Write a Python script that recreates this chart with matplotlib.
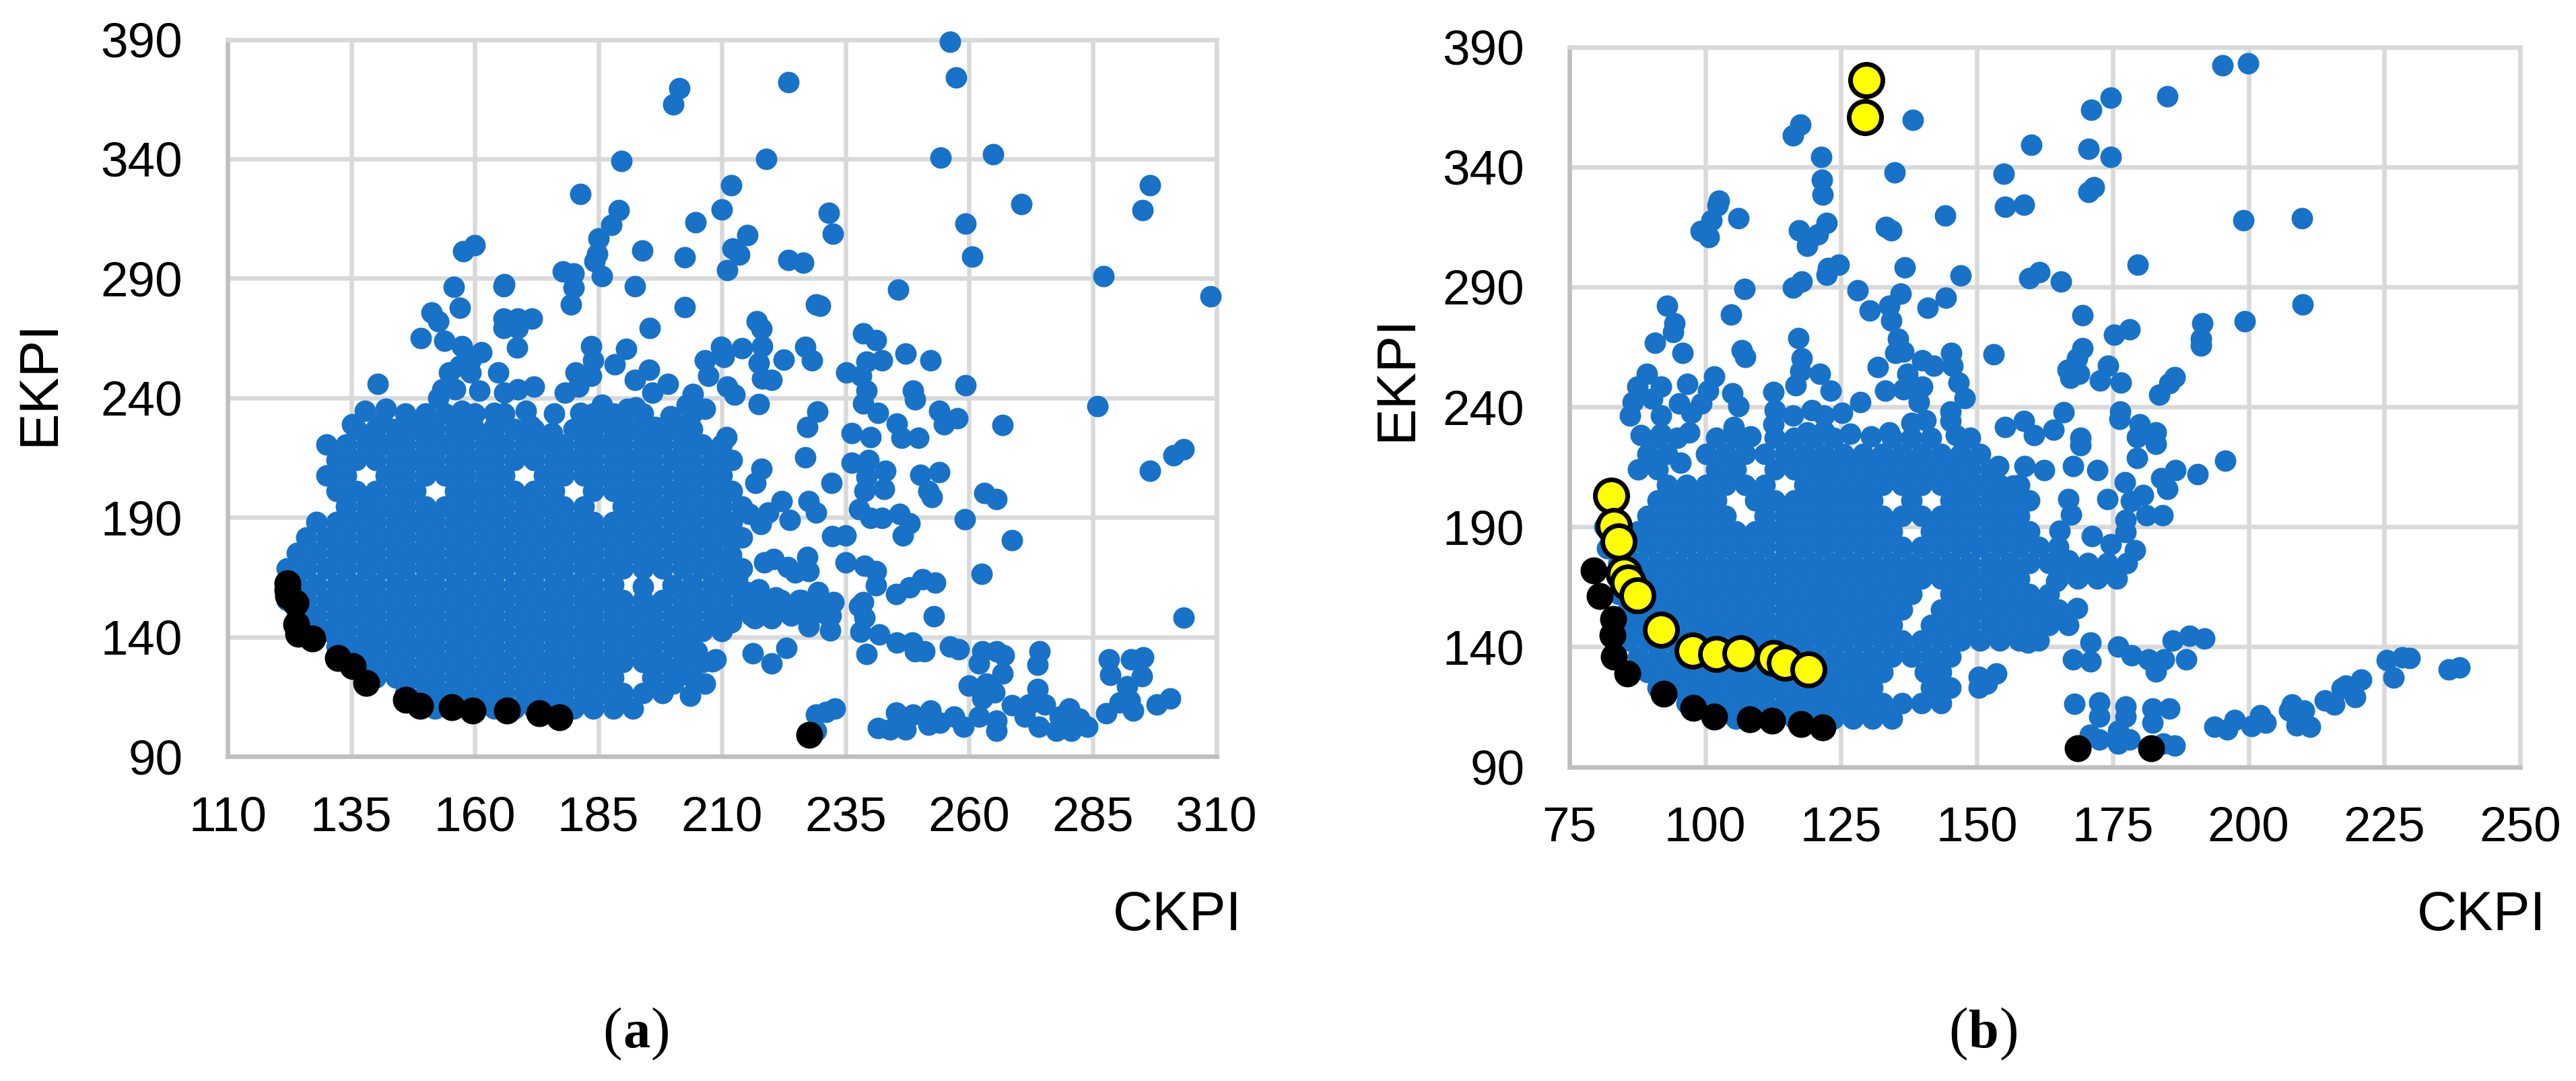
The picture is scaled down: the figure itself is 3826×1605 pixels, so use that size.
import matplotlib
matplotlib.use("Agg")
import matplotlib.pyplot as plt

# panel (a): points read one by one
a_blue = [
    (140.4, 245.8), (189.7, 339), (181.3, 325.4), (189.1, 318.6), (187.6, 312.4), (185, 306.6), (184.8, 300.2),
    (184.2, 297.2), (185.7, 290.8), (193.9, 301.6), (192.4, 286.7), (195.4, 269.2), (177.8, 292.9), (180, 292),
    (180, 286.1), (179.4, 279.1), (160, 304), (157.7, 301.3), (155.7, 286.5), (165.8, 286.7), (166, 287.5),
    (157, 277.7), (151.3, 275.6), (152.6, 272), (149.1, 264.9), (153.9, 264), (157.4, 261.6), (165.8, 273.3),
    (168.7, 273.3), (171.6, 273.3), (165.8, 269.2), (168.7, 269.2), (168.6, 261), (161.3, 259), (159.1, 255.8),
    (154.8, 250.5), (159.1, 250.5), (164.8, 250.7), (157, 253.4), (152.6, 240), (153.5, 243.5), (156, 243.5),
    (160.9, 243), (166, 242.3), (168.7, 243.5), (172, 244.7), (183.5, 261.6), (183.9, 255.8), (190.6, 260.5),
    (188.3, 254), (195.2, 251.7), (180.4, 250.5), (183.5, 249.3), (178.3, 242.3), (180.9, 244.7), (192.4, 247.6),
    (195.9, 242.3), (199.1, 245.8), (137.8, 234.7), (135.2, 228.9), (142, 235.3), (141.3, 230), (146.5, 231.8),
    (150.9, 227.2), (157.4, 234.7), (157.8, 227.2), (163.9, 233.6), (163.9, 227.7), (170.4, 234.7), (171.3, 228.3),
    (175.7, 225.4), (181.3, 233.6), (185.7, 237.1), (180.9, 227.7), (186.5, 230), (190.9, 235.3), (192.6, 236),
    (190, 227.7), (196.5, 227.7), (199.6, 232.4), (256.2, 389), (257.3, 374.1), (223.4, 372), (201.4, 369.7),
    (200.2, 362.7), (219, 339.9), (254.2, 340.6), (264.8, 342), (211.9, 329), (209.9, 318.9), (204.7, 313.4),
    (215.2, 308.1), (212.2, 302.5), (213.5, 300), (211, 293.4), (202.5, 298.8), (223.5, 297.6), (226.4, 296.7),
    (231.6, 317.4), (232.4, 308.6), (259.2, 313), (260.6, 299), (270.6, 321), (296.6, 329), (295.1, 318.6),
    (287.2, 291), (308.8, 282.6), (245.7, 285.3), (202.5, 278), (229.1, 279.1), (229.9, 278.6), (217, 272),
    (218, 269), (238.5, 267), (241.1, 264.2), (247.1, 258.6), (252.2, 255.8), (226.9, 261.3), (228.2, 255.8),
    (209.8, 261.4), (214.1, 260.7), (210.4, 257), (206.5, 255.8), (207.2, 249.3), (218.2, 261.6), (217.4, 254.6),
    (222.5, 256), (218.2, 248.2), (220.1, 247.6), (239.3, 255.2), (242.4, 255.8), (235.1, 250.5), (238.1, 249.3),
    (239.3, 243), (238.5, 237.7), (241.6, 233.8), (248.7, 243), (249.1, 239.4), (259.3, 245.3), (211.1, 244.7),
    (212.6, 241.2), (204.1, 241.7), (202.9, 237.1), (206.6, 235.3), (217.4, 237.4), (229.3, 234.2), (227.2, 227.7),
    (254, 234.7), (257.7, 231.6), (254.9, 228.9), (266.7, 228.7), (286, 236.5), (245.4, 229.1), (236.2, 225.4),
    (240, 223.7), (249.8, 223.3), (246.3, 223.3), (210.9, 223.7), (201.4, 228.3), (303.4, 218.5), (301.3, 215.9),
    (296.6, 209.6), (226.9, 215.2), (218, 210.4), (216.8, 204.4), (232.1, 204.4), (236.2, 213), (239.7, 213.9),
    (243, 209.6), (250.2, 207.9), (254, 209), (251.8, 201), (252.4, 198.4), (263.1, 200.1), (265.5, 197.6),
    (259.1, 189.3), (268.6, 180.4), (262.6, 166.3), (242.8, 201.8), (239.3, 207), (238.9, 201), (237.7, 193.3),
    (240.1, 189.8), (242.4, 189.8), (245.9, 191.5), (248, 187.6), (246.6, 182.4), (235, 182.4), (232.3, 182.1),
    (222.1, 196.7), (227.6, 196.7), (229, 192), (223.7, 189), (219.4, 191.9), (217.8, 187.3), (215.6, 191.5),
    (213.1, 182.1), (211.9, 174.4), (218.6, 171.3), (220.5, 172.7), (223.3, 169.2), (227.2, 173.5), (227.6, 167.5),
    (224.8, 167), (235, 171.3), (238.9, 169.7), (241.2, 167.5), (241.2, 161.5), (245.2, 158), (247.9, 160.6),
    (250.6, 164.1), (253.2, 162.7), (252.8, 148.6), (303.4, 148.1), (238.5, 154.6), (237.7, 152.9), (238.9, 148.1),
    (238, 142.1), (241.9, 140.9), (245.4, 137.5), (248.5, 137.5), (249.1, 134), (251, 134), (239.3, 132.8),
    (256.1, 135.8), (257.9, 134.9), (216.2, 133.2), (220.1, 128.9), (223, 135.4), (231.9, 142.6), (232.6, 154.6),
    (229.5, 158.9), (225.6, 155.5), (227.2, 150.3), (223.7, 149.5), (220.9, 156.4), (217.4, 159.8), (215, 158.9),
    (211.9, 146.1), (220.1, 147.8), (216.6, 147.8), (227.6, 144.3), (231.1, 149.5), (213.1, 164.1), (208, 129.8),
    (208.8, 130.6), (206.5, 120.3), (203.5, 115.5), (204.9, 134), (201.8, 125.5), (200.2, 120.3), (262.7, 134),
    (265.5, 134), (267, 132.3), (262, 128.9), (266.7, 124.6), (260, 119.5), (263.5, 120.3), (262.7, 114.3),
    (265.1, 116.9), (274.3, 134), (273.9, 128.4), (273.9, 118.3), (268.6, 111.4), (272.1, 111.7), (275.3, 111.7),
    (280.3, 110), (271.3, 106.6), (278.4, 106.6), (274.1, 102.3), (277.6, 100.6), (280.7, 100.6), (283.9, 102.3),
    (282.3, 105.7), (265.5, 100.6), (265.5, 104.9), (262, 106.6), (258.8, 102.3), (256.9, 106.6), (254.1, 104),
    (252.2, 109.2), (251.8, 103.2), (248.7, 107.4), (247.1, 101.4), (245.2, 108.3), (244, 101.4), (241.6, 101.8),
    (288.3, 130.6), (288.5, 124.1), (292.8, 130.6), (295.2, 131.5), (295, 123.4), (292, 119.4), (292.5, 113.5),
    (290.5, 112.6), (293.2, 109.2), (287.8, 108), (297.9, 111.7), (300.7, 114.3), (232.9, 110), (231.1, 108.6),
    (229, 107.4), (229.1, 100.6), (194, 161), (200, 161.5),
]

# dense cloud of (a), estimated row by row since the dots merge there
a_row_y = [110, 116.5, 123, 129.5, 136, 142.5, 149, 155.5, 162, 168.5, 175, 181.5, 188, 194.5, 201, 207.5, 214, 220.5, 227, 233.5]
a_row_x = [
    [152, 156, 160, 164, 168, 172, 176, 180, 184, 188, 192],
    [146, 150, 154, 158, 162, 166, 170, 174, 178, 182, 186, 190, 194, 198],
    [140, 144, 148, 152, 156, 160, 164, 168, 172, 176, 180, 184, 188, 196, 200, 204],
    [134, 138, 142, 146, 150, 154, 158, 162, 166, 170, 174, 178, 182, 186, 190, 194, 198, 202, 206],
    [132, 136, 140, 144, 148, 152, 156, 160, 164, 168, 172, 176, 180, 184, 188, 192, 196, 200, 204],
    [126, 130, 134, 138, 142, 146, 150, 154, 158, 162, 166, 170, 174, 178, 182, 186, 190, 194, 198, 202, 206, 210],
    [124, 128, 132, 136, 140, 144, 148, 152, 156, 160, 164, 168, 172, 176, 180, 184, 188, 192, 196, 200, 204, 208, 212, 216, 220, 224, 228, 232],
    [122, 126, 130, 134, 138, 142, 146, 150, 154, 158, 162, 166, 170, 174, 178, 182, 186, 190, 194, 198, 202, 206, 210, 214, 218, 222, 226, 230],
    [124, 128, 132, 136, 140, 144, 148, 152, 156, 160, 164, 168, 172, 176, 180, 184, 188, 204, 208, 212],
    [122, 126, 130, 134, 138, 142, 146, 150, 154, 158, 162, 166, 170, 174, 178, 182, 186, 190, 194, 198, 202, 206, 210, 214],
    [124, 128, 132, 136, 140, 144, 148, 152, 156, 160, 164, 168, 172, 176, 180, 184, 188, 192, 196, 200, 204, 208],
    [126, 130, 134, 138, 142, 146, 150, 154, 158, 162, 166, 170, 174, 178, 182, 186, 190, 194, 198, 202, 206, 210, 214],
    [128, 132, 136, 140, 144, 148, 152, 156, 160, 164, 168, 172, 176, 180, 184, 188, 192, 196, 200, 204, 208, 212],
    [134, 138, 142, 146, 150, 154, 158, 162, 166, 170, 174, 178, 182, 190, 194, 198, 202, 206, 210, 214],
    [132, 136, 140, 144, 148, 156, 160, 164, 168, 172, 176, 184, 188, 192, 196, 200, 204, 208, 212],
    [130, 134, 142, 146, 150, 154, 158, 162, 166, 174, 178, 182, 186, 190, 194, 198, 202, 206, 210],
    [132, 136, 140, 144, 148, 152, 156, 160, 164, 168, 172, 176, 180, 184, 188, 192, 196, 200, 204, 208, 212],
    [130, 134, 138, 142, 146, 150, 154, 158, 162, 166, 170, 174, 178, 182, 186, 190, 194, 198, 202, 206, 210],
    [136, 140, 144, 148, 152, 156, 160, 164, 168, 172, 180, 184, 188, 192, 196, 200, 204],
    [146, 150, 154, 160, 166, 176, 184, 188, 194, 204],
]

a_black_x = [122.1, 122.1, 122.2, 123.8, 123.9, 124.3, 127.2, 132.3, 135.4, 138.1, 146.1, 148.9, 155.4, 159.6, 166.5, 173, 177.1, 227.7]
a_black_y = [162.3, 159.7, 157, 154.3, 145.1, 141.3, 139.2, 131.1, 127.8, 120.8, 113.6, 111.1, 110.6, 109.3, 109.3, 108.1, 106.3, 99]

# panel (b)
b_blue = [
    (138.2, 359.5), (117.5, 357.6), (116.2, 353.1), (121.4, 344.2), (134.9, 337.8), (121.5, 334.5), (121.6, 328.4),
    (102.5, 326), (102.3, 324), (101.2, 317.7), (99.2, 313.3), (100.7, 310.7), (106.1, 318.6), (144.1, 319.8),
    (122.4, 316.5), (117.3, 313.6), (120.7, 311.9), (118.8, 307.2), (133.3, 315), (134.2, 313.6), (136.7, 298.1),
    (147, 294.8), (124.6, 299.1), (122.6, 297.9), (122.4, 295), (117.7, 292.3), (116.2, 289.8), (107.2, 289.2),
    (128, 288.6), (136, 287.2), (144.3, 285.5), (140.9, 281.3), (130.3, 280.2), (133.9, 282.2), (134.2, 275.8),
    (135.5, 268.3), (136.5, 263), (135, 262.4), (93, 282), (94.3, 274.7), (94.1, 271.2), (90.8, 266.7),
    (95.8, 262.4), (104.8, 278.4), (106.7, 263.6), (107.4, 260.7), (117.2, 268.6), (117.7, 260.1), (117.5, 254.9),
    (121.1, 253.7), (116.6, 249.1), (123.1, 246.7), (112.6, 246.2), (131.8, 256.6), (133.1, 246.7), (136.5, 247.3),
    (137.2, 253.7), (139.9, 259.5), (142.1, 257.2), (145.3, 262.4), (145.5, 257.2), (146.6, 250.2), (139.9, 248.5),
    (139.3, 242.1), (147.7, 243.8), (145.1, 238), (145.1, 234), (128.6, 242.1), (89.2, 253.7), (87.5, 248.5),
    (91.8, 248.5), (86.6, 242.1), (86.2, 236.3), (90.3, 243.3), (96.7, 249.6), (101.6, 252.6), (100.5, 246.7),
    (99.3, 241.5), (95.2, 241.5), (91.8, 236.3), (97.4, 237.4), (105, 245.6), (106.1, 240.3), (112.8, 238.6),
    (112.5, 232.8), (116.2, 236.3), (119.6, 238.6), (121.8, 236.3), (125.2, 237.4), (126.7, 228.7), (138, 233.4),
    (140.6, 234.5), (105.3, 231.6), (108.3, 227.6), (118.8, 229.3), (121.8, 229.9), (133.9, 229.3), (130.5, 227.6),
    (146.2, 228.1), (88.1, 228.1), (91.8, 228.7), (97.1, 229.3), (195.2, 382.2), (199.9, 383.1), (185, 369.4),
    (174.6, 368.8), (171, 363.8), (160, 349.3), (170.5, 347.5), (174.6, 344.2), (155, 337.2), (171.5, 331.4),
    (170.5, 329.5), (155.2, 323.3), (158.7, 324.1), (199, 317.7), (209.9, 318.5), (179.6, 299.3), (161.5, 296.2),
    (159.6, 293.5), (165.5, 292.1), (210, 282.8), (199.3, 275.6), (169.5, 278.1), (178.1, 272.3), (175.3, 270),
    (191.5, 274.9), (191.3, 268.3), (191.3, 265.5), (169.5, 264.4), (168.4, 260.1), (153.1, 261.9), (166.7, 255.5),
    (168.8, 253.7), (167.2, 252), (174.2, 257.2), (172.7, 251), (176.5, 250.2), (186.4, 252.3), (185.4, 249.7),
    (183.6, 245), (176.4, 238), (176.2, 235.1), (166, 237.8), (158.7, 234.2), (155.2, 231.6), (164.1, 230.5),
    (180, 232.8), (183, 229.3), (160.5, 228.1), (169.1, 227.2), (195.7, 217.5), (190.6, 211.9), (186.5, 213.6),
    (184, 210.2), (179.5, 218.7), (183, 224.7), (179.5, 227.3), (169.1, 223.9), (172.2, 213.6), (174, 201.6),
    (177.2, 208.5), (185.1, 205.9), (180.6, 203.3), (178.4, 200.8), (184.2, 194.8), (181.2, 194.8), (177.4, 193),
    (177.4, 187.9), (179.1, 180.2), (174.6, 182.8), (171.2, 186.2), (174.6, 172.5), (169.6, 171.6), (166.8, 175.9),
    (165.2, 188.3), (166.8, 201.6), (167.3, 195.1), (167.7, 215.3), (158.8, 215.3), (156.7, 207.1), (162.4, 213.6),
    (153.9, 215.3), (158.1, 187.9), (168.4, 156.2), (164.6, 167.4), (163.6, 152), (159.4, 141.7), (153.6, 128.8),
    (151.8, 124.6), (150.4, 127.4), (150.4, 123), (170.9, 141.7), (167.7, 134.8), (170.9, 134), (176, 140),
    (178.5, 136.5), (181.6, 134.8), (184.4, 134.8), (182.9, 129.7), (188.5, 134.8), (186, 142.5), (189.1, 144.6),
    (191.9, 143.4), (167.9, 116.3), (172.6, 116.8), (177.4, 115.1), (182.3, 114.3), (185.4, 114.3), (172.6, 110.9),
    (177.4, 110.9), (182.3, 108.3), (170.8, 103.2), (172.6, 101.4), (176, 99.7), (178.1, 101.4), (176, 104.9),
    (186.4, 98.9), (184.3, 99.7), (193.7, 106.6), (196.1, 105.7), (197.5, 109.5), (200.6, 107.1), (202.2, 111.4),
    (203.2, 108.3), (208, 116), (207.5, 113.4), (210.2, 113.4), (211.3, 106.6), (208.8, 107.4), (214.1, 117.7),
    (215.8, 116), (217.2, 122.8), (219.6, 119.1), (217.9, 123.7), (220.7, 126.3), (225.5, 134.5), (228.3, 135.7),
    (229.7, 135.3), (226.7, 127.1), (236.9, 130.5), (238.8, 131.4), (81.5, 190), (82, 181), (84, 175),
    (95.4, 216.7),
]

b_row_y = [110, 116.5, 123, 129.5, 136, 142.5, 149, 155.5, 162, 168.5, 175, 181.5, 188, 194.5, 201, 207.5, 214, 220.5, 227]
b_row_x = [
    [105.6, 109.2, 112.8, 116.4, 120, 123.6, 127.2, 130.8, 134.4],
    [96.6, 100.2, 103.8, 107.4, 111, 114.6, 118.2, 121.8, 125.4, 129, 132.6, 136.2, 139.8, 143.4],
    [91.2, 94.8, 98.4, 102, 105.6, 109.2, 112.8, 116.4, 120, 123.6, 127.2, 130.8, 141.6, 145.2],
    [89.4, 93, 96.6, 100.2, 103.8, 107.4, 111, 114.6, 118.2, 121.8, 125.4, 129, 132.6, 140.5, 143.4],
    [87.6, 91.2, 94.8, 98.4, 102, 105.6, 109.2, 112.8, 116.4, 120, 123.6, 127.2, 130.8, 134.4, 138, 141.6, 145.2],
    [85.8, 89.4, 93, 96.6, 100.2, 103.8, 107.4, 111, 114.6, 118.2, 121.8, 125.4, 129, 132.6, 136.2, 139.8, 143.4, 147, 150.6, 154.2, 157.8, 161.4],
    [84, 87.6, 91.2, 94.8, 98.4, 102, 105.6, 109.2, 112.8, 116.4, 120, 123.6, 127.2, 130.8, 134.4, 141.6, 145.2, 148.8, 152.4, 156, 159.6, 163.2, 166.8],
    [85.8, 89.4, 93, 96.6, 100.2, 103.8, 107.4, 111, 114.6, 118.2, 121.8, 125.4, 129, 132.6, 136.2, 143.4, 147, 150.6, 154.2, 157.8, 161.4, 165],
    [84, 87.6, 91.2, 94.8, 98.4, 102, 105.6, 109.2, 112.8, 116.4, 120, 123.6, 127.2, 130.8, 134.4, 138, 145.2, 148.8, 152.4, 156, 159.6, 163.2],
    [85.8, 89.4, 93, 96.6, 100.2, 103.8, 107.4, 111, 114.6, 118.2, 121.8, 125.4, 129, 132.6, 136.2, 139.8, 143.4, 147, 150.6, 154.2, 157.8, 165, 168.6, 172.2, 175.8],
    [84, 87.6, 91.2, 94.8, 98.4, 102, 105.6, 109.2, 112.8, 116.4, 120, 123.6, 127.2, 130.8, 134.4, 138, 141.6, 145.2, 148.8, 152.4, 156, 159.6, 163.2, 166.8, 170.4, 174, 177.6],
    [85.8, 89.4, 93, 96.6, 100.2, 103.8, 107.4, 111, 114.6, 118.2, 121.8, 125.4, 129, 132.6, 136.2, 139.8, 143.4, 147, 150.6, 154.2, 157.8, 161.4, 165],
    [84, 87.6, 91.2, 94.8, 98.4, 102, 105.6, 109.2, 112.8, 116.4, 120, 123.6, 127.2, 130.8, 134.4, 141.6, 145.2, 148.8, 152.4, 156, 159.6],
    [89.4, 93, 96.6, 100.2, 103.8, 111, 114.6, 118.2, 121.8, 125.4, 129, 132.6, 136.2, 139.8, 143.4, 147, 150.6, 154.2, 157.8],
    [91.2, 94.8, 98.4, 102, 109.2, 112.8, 116.4, 120, 123.6, 127.2, 130.8, 138, 145.2, 148.8, 152.4, 156, 159.6],
    [93, 96.6, 100.2, 103.8, 107.4, 111, 118.2, 121.8, 125.4, 129, 132.6, 136.2, 139.8, 143.4, 147, 150.6, 154.2, 157.8],
    [87.6, 91.2, 102, 105.6, 112.8, 116.4, 120, 123.6, 127.2, 130.8, 134.4, 138, 141.6, 145.2, 148.8, 152.4],
    [89.4, 93, 100.2, 103.8, 107.4, 111, 114.6, 118.2, 121.8, 125.4, 129, 132.6, 136.2, 139.8, 143.4, 147, 150.6],
    [91.2, 94.8, 102, 105.6, 112.8, 116.4, 120, 123.6, 134.4, 138, 141.6, 148.8],
]

b_black_x = [79.4, 80.6, 83, 82.9, 83.2, 85.7, 92.3, 97.8, 101.7, 108.2, 112.3, 117.6, 121.6, 168.6, 182.1]
b_black_y = [171.8, 161.1, 151.6, 144.9, 135.8, 129, 120.4, 114.5, 111, 109.7, 109.1, 107.7, 106.5, 97.8, 97.7]

b_yellow_x = [129.6, 129.4, 82.7, 83.2, 84.1, 85.1, 85.8, 87.5, 91.8, 97.7, 102, 106.5, 112.6, 114.7, 119]
b_yellow_y = [376.2, 360.7, 203, 190.3, 183.9, 170.4, 166.7, 161.3, 147.1, 138.5, 137.1, 137.4, 135.2, 133.3, 130.6]

a_xticks = [110, 135, 160, 185, 210, 235, 260, 285, 310]
b_xticks = [75, 100, 125, 150, 175, 200, 225, 250]
yticks = [90, 140, 190, 240, 290, 340, 390]

W, H = 3826, 1605
BLUE = "#1872C8"
GRID = "#D9D9D9"
AXIS = "#BFBFBF"
SANS = "Liberation Sans"
SERIF = "Liberation Serif"


def expand(points, row_x, row_y):
    xs = [p[0] for p in points]
    ys = [p[1] for p in points]
    for y, row in zip(row_y, row_x):
        xs += row
        ys += [y] * len(row)
    return xs, ys


def panel(fig, box, xticks, blue, black):
    left, right, top, bottom = box
    ax = fig.add_axes([left / W, 1 - bottom / H, (right - left) / W, (bottom - top) / H])
    ax.set_xlim(xticks[0], xticks[-1])
    ax.set_ylim(yticks[0], yticks[-1])
    ax.set_xticks(xticks)
    ax.set_yticks(yticks)
    ax.grid(color=GRID, lw=4.7)
    ax.set_axisbelow(True)
    for side in ("top", "right"):
        ax.spines[side].set_color(GRID)
        ax.spines[side].set_linewidth(4.7)
    for side in ("left", "bottom"):
        ax.spines[side].set_color(AXIS)
        ax.spines[side].set_linewidth(4.7)
    ax.tick_params(length=0, labelsize=52.5)
    ax.tick_params(axis="x", pad=42)
    ax.tick_params(axis="y", pad=48)
    for label in ax.get_xticklabels() + ax.get_yticklabels():
        label.set_fontfamily(SANS)
    ax.plot(blue[0], blue[1], "o", color=BLUE, ms=23, mew=0, clip_on=False, zorder=3)
    ax.plot(black[0], black[1], "o", color="black", ms=28.8, mew=0, clip_on=False, zorder=4)
    return ax


def main():
    fig = plt.figure(figsize=(W / 100, H / 100), dpi=100)
    panel(fig, (338, 1806.5, 58.5, 1123), a_xticks, expand(a_blue, a_row_x, a_row_y), (a_black_x, a_black_y))
    ax = panel(fig, (2331, 3743, 69.6, 1138.5), b_xticks, expand(b_blue, b_row_x, b_row_y), (b_black_x, b_black_y))
    ax.plot(b_yellow_x, b_yellow_y, "o", mfc="#FFFF00", mec="black", ms=34.6, mew=5, clip_on=False, zorder=5)

    fig.text(1844 / W, 1 - 1381 / H, "CKPI", family=SANS, fontsize=59, ha="right", va="baseline")
    fig.text(3781 / W, 1 - 1381 / H, "CKPI", family=SANS, fontsize=59, ha="right", va="baseline")
    fig.text(59 / W, 1 - 568 / H, "EKPI", family=SANS, fontsize=59, rotation=90, ha="center", va="center")
    fig.text(2075 / W, 1 - 561 / H, "EKPI", family=SANS, fontsize=59, rotation=90, ha="center", va="center")

    for cx, word in ((945, "a"), (2946, "b")):
        mid = fig.text(cx / W, 1 - 1555 / H, word, family=SERIF, weight="bold", fontsize=58, ha="center", va="baseline")
        fig.canvas.draw()
        bb = mid.get_window_extent()
        fig.text((bb.x0 - 1) / W, 1 - 1555 / H, "(", family=SERIF, fontsize=62, ha="right", va="baseline")
        fig.text((bb.x1 + 1) / W, 1 - 1555 / H, ")", family=SERIF, fontsize=62, ha="left", va="baseline")

    fig.savefig("out.png", dpi=100)
    plt.close(fig)


if __name__ == "__main__":
    main()
